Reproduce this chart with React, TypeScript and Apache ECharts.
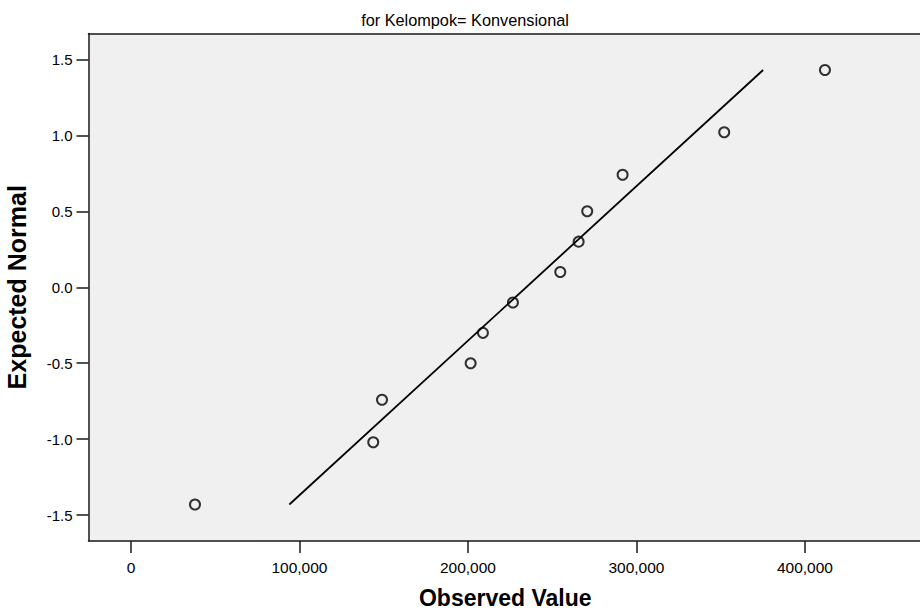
import React, { useEffect, useRef } from "react";
import * as echarts from "echarts";

const titleText = "for Kelompok= Konvensional";
const xAxisTitle = "Observed Value";
const yAxisTitle = "Expected Normal";

const observedValues = [38000, 143800, 149000, 201600, 208900, 226700, 254800, 265700, 270800, 291800, 352100, 411900];
const expectedNormal = [-1.43, -1.02, -0.74, -0.5, -0.3, -0.1, 0.1, 0.3, 0.5, 0.74, 1.02, 1.43];

const lineX = [94000, 375200];
const lineY = [-1.43, 1.43];

const xTicks = [0, 100000, 200000, 300000, 400000];
const yTicks = [-1.5, -1.0, -0.5, 0.0, 0.5, 1.0, 1.5];

const FONT = "'Liberation Sans', Arial, Helvetica, sans-serif";

export default function App() {
  const ref = useRef<HTMLDivElement>(null);
  useEffect(() => {
    if (!ref.current) return;
    const chart = echarts.init(ref.current, undefined, { renderer: "svg" });
    const axisColor = "#1a1a1a";
    chart.setOption({
      animation: false,
      backgroundColor: "#ffffff",
      textStyle: { fontFamily: FONT },
      title: {
        text: titleText,
        left: 460,
        top: 7,
        textAlign: "center",
        textStyle: { fontFamily: FONT, fontSize: 16.3, fontWeight: "normal", color: "#000" },
      },
      grid: {
        left: 88.5,
        right: -2,
        top: 33.5,
        bottom: 71,
        show: true,
        backgroundColor: "#f0f0f0",
        borderWidth: 0,
        containLabel: false,
        outerBoundsMode: "none",
      },
      xAxis: [
        {
          type: "value",
          min: -25200,
          max: 469500,
          position: "bottom",
          name: xAxisTitle,
          nameLocation: "middle",
          nameGap: 45,
          nameTextStyle: { fontFamily: FONT, fontSize: 23, fontWeight: "bold", color: "#000" },
          axisLine: { show: true, onZero: false, lineStyle: { color: axisColor, width: 1.5 } },
          axisTick: { show: true, length: 12, inside: false, customValues: xTicks, lineStyle: { color: axisColor, width: 1.5 } },
          axisLabel: {
            show: true,
            customValues: xTicks,
            margin: 18,
            fontFamily: FONT,
            fontSize: 15.5,
            color: "#000",
            formatter: (v: number) => v.toLocaleString("en-US"),
          },
          splitLine: { show: false },
        },
        {
          type: "value",
          min: -25200,
          max: 469500,
          position: "top",
          axisLine: { show: true, onZero: false, lineStyle: { color: axisColor, width: 1.5 } },
          axisTick: { show: false },
          axisLabel: { show: false },
          splitLine: { show: false },
        },
      ],
      yAxis: {
        type: "value",
        min: -1.67,
        max: 1.67,
        name: yAxisTitle,
        nameLocation: "middle",
        nameGap: 59,
        nameRotate: 90,
        nameTextStyle: { fontFamily: FONT, fontSize: 25, fontWeight: "bold", color: "#000" },
        axisLine: { show: true, onZero: false, lineStyle: { color: axisColor, width: 1.5 } },
        axisTick: { show: true, length: 12, inside: false, customValues: yTicks, lineStyle: { color: axisColor, width: 1.5 } },
        axisLabel: {
          show: true,
          customValues: yTicks,
          margin: 16,
          fontFamily: FONT,
          fontSize: 15,
          color: "#000",
          formatter: (v: number) => v.toFixed(1),
        },
        splitLine: { show: false },
      },
      series: [
        {
          type: "line",
          xAxisIndex: 0,
          data: lineX.map((x, i) => [x, lineY[i]]),
          symbol: "none",
          lineStyle: { color: "#000", width: 1.8 },
          silent: true,
          z: 2,
        },
        {
          type: "scatter",
          xAxisIndex: 0,
          data: observedValues.map((x, i) => [x, expectedNormal[i]]),
          symbol: "circle",
          symbolSize: 10,
          itemStyle: { color: "rgba(0,0,0,0)", borderColor: "#000", borderWidth: 2 },
          z: 3,
        },
      ],
    });
    return () => chart.dispose();
  }, []);
  return <div ref={ref} style={{ position: "absolute", left: 0, top: 0, width: 920, height: 612 }} />;
}
